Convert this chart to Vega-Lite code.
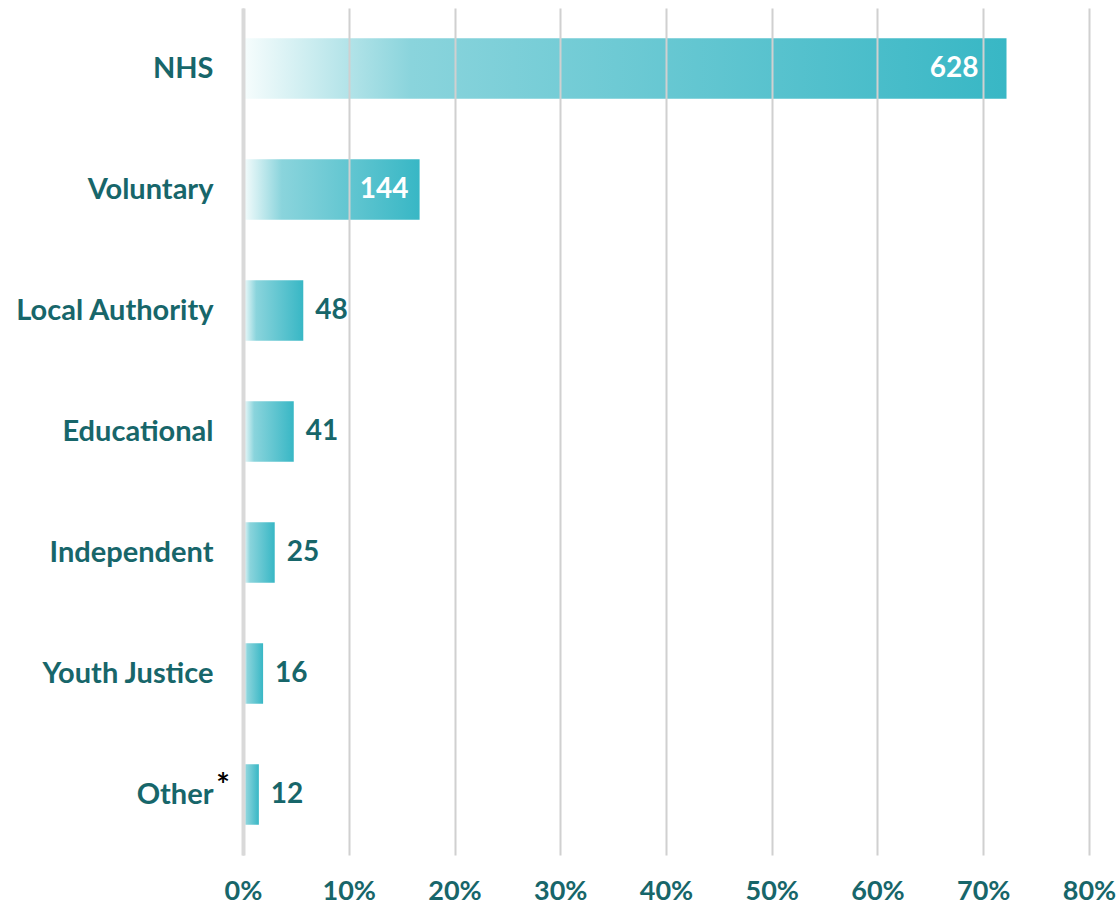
{
  "$schema": "https://vega.github.io/schema/vega-lite/v6.json",
  "width": 846,
  "height": 847,
  "autosize": {"type": "none"},
  "padding": {"left": 243, "top": 8, "right": 30, "bottom": 54},
  "background": "white",
  "config": {"view": {"stroke": null}, "font": "Lato"},
  "data": {
    "values": [
      {"sector": "NHS", "count": 628, "pct": 0.722},
      {"sector": "Voluntary\u00a0", "count": 144, "pct": 0.167},
      {"sector": "Local Authority", "count": 48, "pct": 0.057},
      {"sector": "Educational", "count": 41, "pct": 0.048},
      {"sector": "Independent", "count": 25, "pct": 0.03},
      {"sector": "Youth Justice", "count": 16, "pct": 0.019},
      {"sector": "Other", "count": 12, "pct": 0.015}
    ]
  },
  "encoding": {
    "y": {
      "field": "sector", "type": "nominal", "sort": null,
      "scale": {"paddingInner": 0.5, "paddingOuter": 0.25},
      "axis": {
        "title": null, "ticks": false, "domain": true, "domainColor": "#d9d9d9", "domainWidth": 4,
        "labelFont": "Lato", "labelFontSize": 29, "labelFontWeight": "bold", "labelColor": "#17666a",
        "labelPadding": 30, "labelLimit": 300, "zindex": 1
      }
    },
    "x": {
      "field": "pct", "type": "quantitative",
      "scale": {"domain": [0, 0.8], "nice": false},
      "axis": {
        "title": null, "format": ".0%", "values": [0, 0.1, 0.2, 0.3, 0.4, 0.5, 0.6, 0.7, 0.8],
        "labelOverlap": false, "labelFlush": false, "labelBound": false,
        "grid": true, "gridColor": "#d0d0d0", "gridWidth": 2, "domain": false, "ticks": false,
        "labelFont": "Lato", "labelFontSize": 27, "labelFontWeight": "bold", "labelColor": "#17666a",
        "labelPadding": 23, "zindex": 1
      }
    }
  },
  "layer": [
    {
      "mark": {
        "type": "bar",
        "color": {
          "gradient": "linear", "x1": 0, "x2": 1, "y1": 0, "y2": 0,
          "stops": [
            {"offset": 0, "color": "#f7fdfd"},
            {"offset": 0.22, "color": "#8ad4dc"},
            {"offset": 1, "color": "#38b7c5"}
          ]
        }
      }
    },
    {
      "transform": [{"filter": "datum.pct > 0.5"}],
      "mark": {"type": "text", "align": "right", "dx": -28, "color": "white", "font": "Lato", "fontSize": 28, "fontWeight": "bold", "baseline": "middle"},
      "encoding": {"text": {"field": "count", "type": "quantitative"}}
    },
    {
      "transform": [{"filter": "datum.pct > 0.1 && datum.pct <= 0.5"}],
      "mark": {"type": "text", "align": "right", "dx": -11, "color": "white", "font": "Lato", "fontSize": 28, "fontWeight": "bold", "baseline": "middle"},
      "encoding": {"text": {"field": "count", "type": "quantitative"}}
    },
    {
      "transform": [{"filter": "datum.pct <= 0.1"}],
      "mark": {"type": "text", "align": "left", "dx": 12, "color": "#17666a", "font": "Lato", "fontSize": 28, "fontWeight": "bold", "baseline": "middle"},
      "encoding": {"text": {"field": "count", "type": "quantitative"}}
    },
    {
      "transform": [{"filter": "datum.sector == 'Other'"}],
      "mark": {"type": "text", "text": "*", "align": "center", "dx": -20, "dy": -8, "color": "black", "font": "Lato", "fontSize": 32, "fontWeight": "bold", "baseline": "middle"},
      "encoding": {"x": {"datum": 0}}
    }
  ]
}
